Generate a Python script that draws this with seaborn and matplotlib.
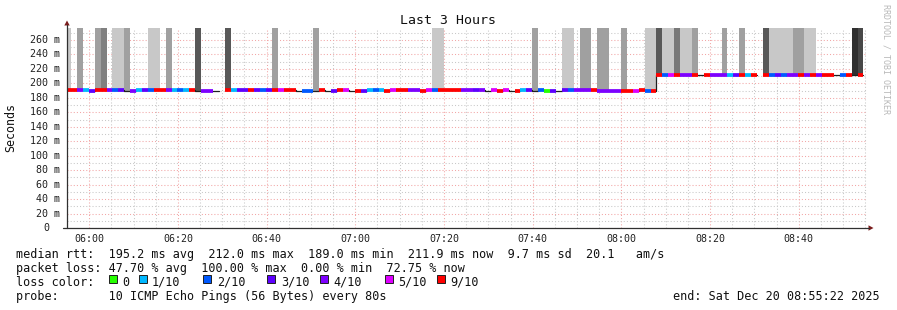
import numpy as np
import matplotlib
matplotlib.use("Agg")
import matplotlib.pyplot as plt
import seaborn as sns
from matplotlib.patches import Rectangle, Polygon
from matplotlib.lines import Line2D

# ---------------- data ----------------
title = "Last 3 Hours"
start_min = 5 * 60 + 55 + 22 / 60          # 05:55:22
span_min = 180
step_min = 80 / 60                          # one probe every 80 s
first_edge = 354.573                        # start of first (partial) step

# loss per step (lost pings out of 10, 10 = no colour, None = no data)
loss = [
    9, 9, 4, 1, 3, 9, 9, 4, 2, 3,
    10, 4, 1, 3, 2, 9, 9, 4, 1, 2,
    1, 9, 10, 4, 4, 10, None, 9, 1, 3,
    3, 9, 3, 2, 3, 9, 5, 9, 9, 10,
    2, 2, 10, 9, 10, 3, 9, 5, 10, 9,
    3, 1, 2, 1, 9, 5, 9, 9, 4, 4,
    9, 5, 2, 9, 9, 9, 9, 4, 4, 3,
    4, 10, 5, 9, 5, 10, 9, 1, 3, 10,
    2, 0, 3, 10, 3, 2, 4, 4, 4, 9,
    4, 4, 4, 4, 9, 9, 5, 9, 2, 9,
    9, 2, 5, 9, 4, 4, 9, 10, 9, 4,
    4, 4, 1, 3, 9, 1, 9, None, 9, 2,
    3, 2, 4, 4, 9, 4, 9, 4, 9, 9,
    10, 2, 9, 10, 9, None,
]
nan = np.nan
median_ms = [
    190.8, 190.8, 190.6, 190.6, 189.8, 190.2, 190.2, 190.6, 190.2, 190.4,
    189.6, 189.8, 190.2, 190.6, 190.2, 190.6, 190.4, 190.8, 190.2, 190.6,
    190.8, 190.4, 189.6, 189.8, 189.8, 189.4, nan, 190.2, 190.8, 190.8,
    190.8, 190.2, 190.8, 190.6, 190.8, 190.6, 191.0, 190.2, 190.2, 189.4,
    190.0, 190.0, 189.6, 190.6, 189.6, 189.8, 190.2, 190.4, 189.6, 189.8,
    189.8, 190.8, 190.6, 190.6, 190.0, 190.6, 190.6, 190.6, 190.6, 190.6,
    190.0, 190.6, 190.4, 190.6, 190.4, 190.4, 190.4, 190.4, 190.2, 190.2,
    190.6, 189.6, 190.6, 190.0, 190.6, 189.0, 190.0, 190.2, 190.2, 189.6,
    190.4, 190.0, 190.0, 189.6, 190.2, 190.2, 190.6, 190.6, 190.6, 190.2,
    190.0, 189.8, 189.8, 189.8, 189.8, 189.8, 189.8, 190.6, 190.0, 189.8,
    212.0, 212.0, 211.4, 212.0, 212.0, 212.0, 211.4, 211.0, 212.0, 211.8,
    211.8, 211.8, 211.8, 211.4, 211.8, 211.8, 211.8, nan, 211.8, 211.8,
    211.2, 211.2, 211.6, 211.6, 211.8, 211.4, 211.4, 211.8, 211.8, 211.8,
    211.6, 211.8, 211.8, 211.4, 211.9, nan,
]
# smoke (high pings beyond the top) per step index (k, -1 = partial first step)
smoke_step = [-1, 1, 4, 5, 7, 8, 9, 13, 14, 16, 21, 26, 34, 41, 61, 62, 78,
              83, 84, 86, 87, 89, 90, 93, 97, 98, 99, 100, 101, 102, 103, 104,
              105, 110, 113, 117, 118, 119, 120, 121, 122, 123, 124, 125, 132, 133]
smoke_grey = [200, 160, 160, 128, 200, 200, 160, 200, 200, 160, 88, 88, 160, 160,
              200, 200, 160, 200, 200, 160, 160, 160, 160, 160, 200, 200, 88, 200,
              200, 120, 200, 200, 160, 160, 160, 88, 200, 200, 200, 200, 160, 160,
              200, 200, 48, 72]

loss_levels = [0, 1, 2, 3, 4, 5, 9]
loss_labels = ["0", "1/10", "2/10", "3/10", "4/10", "5/10", "9/10"]
loss_colors = ["#26ff00", "#00b8ff", "#0059ff", "#5e00ff", "#7e00ff", "#dd00ff", "#ff0000"]

y_ticks = list(range(0, 261, 20))
x_ticks = list(range(360, 521, 20))
x_labels = ["06:00", "06:20", "06:40", "07:00", "07:20", "07:40", "08:00", "08:20", "08:40"]

line1 = "median rtt:  195.2 ms avg  212.0 ms max  189.0 ms min  211.9 ms now  9.7 ms sd  20.1   am/s"
line2 = "packet loss: 47.70 % avg  100.00 % max  0.00 % min  72.75 % now"
line3 = "loss color:"
line4 = "probe:       10 ICMP Echo Pings (56 Bytes) every 80s"
end_text = "end: Sat Dec 20 08:55:22 2025"
side_text = "RRDTOOL / TOBI OETIKER"

# ---------------- drawing ----------------
sns.set_theme(style="white")
plt.rcParams['font.family'] = ['DejaVu Sans Mono', 'DejaVu Sans']

W, H = 897, 310
fig = plt.figure(figsize=(W / 100, H / 100), dpi=100, facecolor="white")

def fx(px):
    return px / W

def fy(py):
    return 1 - py / H

ax = fig.add_axes([fx(67), 82 / H, 800 / W, 200 / H])
ax.set_facecolor("white")
end_min = start_min + span_min
ax.set_xlim(start_min, end_min)
ax.set_ylim(0, 276.6)

n = len(loss)
xs = first_edge + np.arange(n) * step_min
med = np.array(median_ms, dtype=float)

# grid
ax.set_xticks(x_ticks)
ax.set_xticklabels(x_labels)
ax.set_xticks(np.arange(360 - 5, end_min, 5), minor=True)
ax.set_yticks(y_ticks)
ax.set_yticklabels([])
ax.set_yticks(np.arange(10, 276, 20), minor=True)
ax.grid(which="major", color="#f2a6a6", linestyle=(0, (1, 2)), linewidth=0.75)
ax.grid(which="minor", color="#c8c8c8", linestyle=(0, (1, 2)), linewidth=0.75)
ax.set_axisbelow(True)
for s in ax.spines.values():
    s.set_visible(False)
ax.tick_params(axis="x", which="both", direction="inout", length=3, width=0.6,
               color="#606060", labelsize=7.2, pad=3, labelcolor="#202020")
ax.tick_params(axis="y", which="major", direction="inout", length=3, width=0.6,
               color="#606060")
ax.tick_params(axis="y", which="minor", length=0)

# smoke bars
idx = {k: i for i, k in enumerate(range(-1, n - 1))}
sx = np.array([xs[idx[k]] for k in smoke_step])
sm = np.array([med[idx[k]] for k in smoke_step])
scol = ["#%02x%02x%02x" % (g, g, g) for g in smoke_grey]
ax.bar(sx, 300 - sm, bottom=sm, width=step_min, align="edge", color=scol,
       linewidth=0, zorder=2)

# thin median line
x_edges = np.append(xs, xs[-1] + step_min)
y_edges = np.append(med, med[-1])
ax.plot(x_edges, y_edges, drawstyle="steps-post", color="#202020", lw=0.9, zorder=3)

# coloured loss segments
cmap = dict(zip(loss_levels, loss_colors))
for x0, m, l in zip(xs, med, loss):
    if l is None or l not in cmap or np.isnan(m):
        continue
    lc = ax.hlines(m, x0, x0 + step_min, colors=cmap[l], lw=2.7, zorder=4)
    lc.set_capstyle("butt")

# y tick labels
blend = matplotlib.transforms.blended_transform_factory(fig.transFigure, ax.transData)
for v in y_ticks:
    lab = "0" if v == 0 else f"{v} m"
    xr = 49 if v == 0 else 60
    ax.text(fx(xr), v, lab, transform=blend,
            ha="right", va="center", fontsize=7.2, color="#202020")

# axes lines and arrows
axcol = "#303030"
fig.add_artist(Line2D([fx(67), fx(67)], [fy(228), fy(25)], color=axcol, lw=0.9))
fig.add_artist(Line2D([fx(63), fx(869)], [fy(228), fy(228)], color=axcol, lw=0.9))
arr = "#7a1c1c"
fig.add_artist(Polygon([[fx(64.3), fy(25.5)], [fx(69.7), fy(25.5)], [fx(67), fy(20.5)]],
                       closed=True, transform=fig.transFigure, color=arr, lw=0))
fig.add_artist(Polygon([[fx(868.5), fy(225.3)], [fx(868.5), fy(230.7)], [fx(873.5), fy(228)]],
                       closed=True, transform=fig.transFigure, color=arr, lw=0))

# titles
fig.text(fx(448), fy(20), title, ha="center", va="center", fontsize=9.5, color="#101010")
fig.text(fx(11), fy(127), "Seconds", rotation=90, ha="center", va="center", fontsize=8.4,
         color="#101010")
fig.text(fx(886), fy(4), side_text, rotation=270, ha="center", va="top", fontsize=6,
         color="#b8b8b8")

# legend block
fs = 8.5
fig.text(fx(16), fy(258), line1, ha="left", va="baseline", fontsize=fs, color="#101010")
fig.text(fx(16), fy(272), line2, ha="left", va="baseline", fontsize=fs, color="#101010")
fig.text(fx(16), fy(286), line3, ha="left", va="baseline", fontsize=fs, color="#101010")
fig.text(fx(16), fy(300), line4, ha="left", va="baseline", fontsize=fs, color="#101010")
fig.text(fx(880), fy(300), end_text, ha="right", va="baseline", fontsize=fs, color="#101010")

box_x = [109, 139, 203, 267, 320, 385, 437]
lab_x = [122, 152, 217, 281, 333, 398, 450]
for bx, lx, c, lab in zip(box_x, lab_x, loss_colors, loss_labels):
    fig.add_artist(Rectangle((fx(bx), fy(282.5)), 7.5 / W, 7.5 / H, transform=fig.transFigure,
                             facecolor=c, edgecolor="#202020", lw=0.7))
    fig.text(fx(lx), fy(285.5), lab, ha="left", va="baseline", fontsize=fs, color="#101010")

fig.savefig("out.png", dpi=100, facecolor="white")
